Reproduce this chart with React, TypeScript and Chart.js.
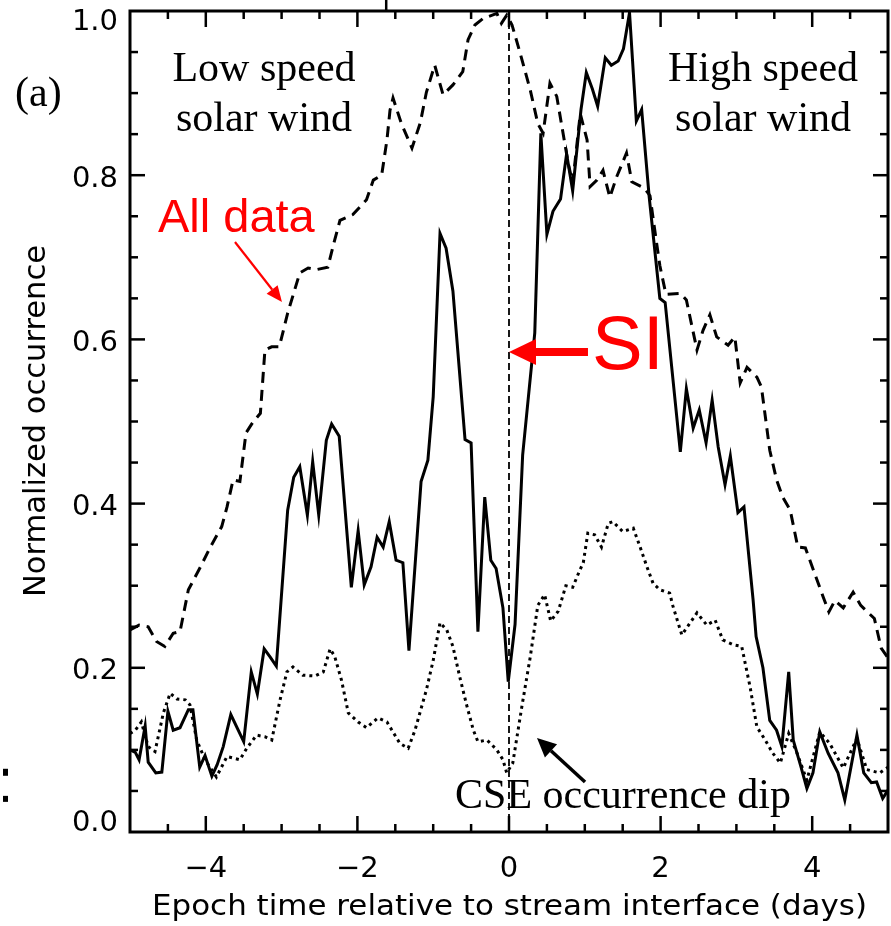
import React, { useEffect, useRef } from "react";
import { Chart, registerables } from "chart.js";

Chart.register(...registerables);

// Epoch time (days) and normalized occurrence for the three curves
const allDataTime = [
  -5.0, -4.88, -4.76, -4.65, -4.54, -4.43, -4.34, -4.23, -4.07, -3.94, -3.79, -3.72, -3.64, -3.55, -3.47, -3.38,
  -3.28, -3.22, -3.13, -3.03, -2.92, -2.76, -2.65, -2.54, -2.39, -2.3, -2.23, -2.06, -1.88, -1.79, -1.68, -1.61,
  -1.57, -1.53, -1.42, -1.28, -1.17, -1.09, -0.98, -0.87, -0.74, -0.61, -0.54, -0.45, -0.34, -0.16, -0.1, -0.03,
  0.04, 0.14, 0.28, 0.38, 0.45, 0.54, 0.63, 0.78, 0.84, 0.94, 1.03, 1.07, 1.16, 1.24, 1.33, 1.42, 1.55, 1.62,
  1.79, 1.86, 1.92, 1.99, 2.07, 2.26, 2.34, 2.48, 2.56, 2.65, 2.74, 2.89, 2.98, 3.05, 3.14, 3.27, 3.33, 3.44,
  3.53, 3.61, 3.71, 3.81, 3.91, 4.15, 4.22, 4.3, 4.41, 4.54, 4.64, 4.82, 4.91, 5.0,
];
const allDataValue = [
  0.246, 0.252, 0.25, 0.232, 0.226, 0.242, 0.244, 0.295, 0.323, 0.347, 0.372, 0.396, 0.429, 0.427, 0.486, 0.499,
  0.51, 0.587, 0.591, 0.591, 0.632, 0.681, 0.687, 0.685, 0.688, 0.721, 0.745, 0.752, 0.77, 0.794, 0.8, 0.843,
  0.879, 0.894, 0.863, 0.833, 0.864, 0.901, 0.934, 0.898, 0.91, 0.926, 0.965, 0.983, 0.991, 0.997, 0.985, 0.995,
  0.983, 0.951, 0.904, 0.863, 0.851, 0.912, 0.896, 0.815, 0.79, 0.875, 0.843, 0.786, 0.794, 0.806, 0.773, 0.798,
  0.827, 0.792, 0.784, 0.775, 0.735, 0.69, 0.655, 0.656, 0.648, 0.587, 0.611, 0.63, 0.603, 0.593, 0.603, 0.547,
  0.566, 0.554, 0.542, 0.465, 0.429, 0.408, 0.392, 0.347, 0.346, 0.285, 0.268, 0.282, 0.273, 0.292, 0.276, 0.26,
  0.224, 0.212,
];

const solidTime = [
  -5.0, -4.93, -4.88, -4.8, -4.76, -4.66, -4.58, -4.5, -4.43, -4.34, -4.23, -4.17, -4.08, -4.01, -3.92, -3.85,
  -3.77, -3.67, -3.5, -3.4, -3.32, -3.23, -3.15, -3.07, -2.92, -2.84, -2.76, -2.66, -2.59, -2.51, -2.41, -2.34,
  -2.24, -2.08, -1.99, -1.91, -1.82, -1.74, -1.66, -1.58, -1.49, -1.4, -1.32, -1.16, -1.07, -1.0, -0.91, -0.83,
  -0.74, -0.58, -0.5, -0.41, -0.32, -0.24, -0.17, -0.08, -0.01, 0.08, 0.18, 0.27, 0.34, 0.42, 0.5, 0.58, 0.68,
  0.76, 0.84, 0.95, 1.02, 1.1, 1.17, 1.27, 1.35, 1.44, 1.51, 1.59, 1.68, 1.75, 1.85, 1.99, 2.06, 2.26, 2.34,
  2.43, 2.51, 2.6, 2.68, 2.76, 2.85, 2.92, 3.02, 3.1, 3.22, 3.26, 3.35, 3.44, 3.53, 3.6, 3.69, 3.75, 3.85, 3.93,
  4.01, 4.1, 4.21, 4.34, 4.43, 4.59, 4.68, 4.78, 4.85, 4.93, 5.0,
];
const solidValue = [
  0.1, 0.097, 0.088, 0.129, 0.085, 0.072, 0.073, 0.147, 0.124, 0.127, 0.149, 0.149, 0.079, 0.093, 0.068, 0.082,
  0.104, 0.143, 0.11, 0.195, 0.168, 0.223, 0.213, 0.202, 0.392, 0.432, 0.445, 0.386, 0.451, 0.386, 0.477, 0.497,
  0.482, 0.298, 0.367, 0.301, 0.323, 0.359, 0.347, 0.378, 0.331, 0.328, 0.221, 0.427, 0.453, 0.53, 0.729, 0.711,
  0.659, 0.478, 0.474, 0.244, 0.408, 0.331, 0.321, 0.273, 0.183, 0.253, 0.459, 0.543, 0.608, 0.851, 0.728, 0.756,
  0.771, 0.826, 0.781, 0.88, 0.925, 0.905, 0.884, 0.943, 0.934, 0.939, 0.954, 0.998, 0.866, 0.88, 0.773, 0.65,
  0.645, 0.463, 0.54, 0.492, 0.514, 0.474, 0.526, 0.469, 0.423, 0.458, 0.389, 0.396, 0.283, 0.238, 0.2, 0.136,
  0.124, 0.104, 0.195, 0.112, 0.08, 0.053, 0.072, 0.122, 0.096, 0.072, 0.039, 0.118, 0.072, 0.06, 0.061, 0.041,
  0.051,
];

const dottedTime = [
  -5.0, -4.93, -4.85, -4.76, -4.67, -4.56, -4.47, -4.38, -4.27, -4.21, -4.12, -4.01, -3.86, -3.72, -3.55, -3.46,
  -3.33, -3.22, -3.13, -3.02, -2.93, -2.85, -2.72, -2.56, -2.45, -2.36, -2.3, -2.21, -2.12, -1.99, -1.88, -1.73,
  -1.61, -1.44, -1.33, -1.24, -1.09, -1.0, -0.91, -0.82, -0.74, -0.65, -0.56, -0.47, -0.41, -0.29, -0.16, -0.08,
  -0.03, 0.05, 0.17, 0.28, 0.38, 0.47, 0.55, 0.65, 0.75, 0.84, 0.93, 0.98, 1.04, 1.13, 1.22, 1.31, 1.37, 1.5,
  1.64, 1.73, 1.82, 1.9, 1.99, 2.12, 2.16, 2.28, 2.48, 2.61, 2.72, 2.82, 2.96, 3.07, 3.18, 3.27, 3.38, 3.48,
  3.58, 3.69, 3.8, 3.93, 4.1, 4.23, 4.41, 4.59, 4.72, 4.89, 5.0,
];
const dottedValue = [
  0.12, 0.124, 0.134, 0.104, 0.098, 0.145, 0.169, 0.162, 0.161, 0.155, 0.112, 0.088, 0.067, 0.092, 0.088, 0.102,
  0.118, 0.116, 0.112, 0.161, 0.195, 0.201, 0.191, 0.19, 0.195, 0.223, 0.214, 0.185, 0.145, 0.134, 0.127, 0.139,
  0.134, 0.108, 0.102, 0.124, 0.173, 0.209, 0.255, 0.246, 0.226, 0.189, 0.155, 0.124, 0.11, 0.112, 0.1, 0.088,
  0.072, 0.084, 0.153, 0.213, 0.276, 0.289, 0.257, 0.269, 0.3, 0.298, 0.318, 0.328, 0.364, 0.362, 0.347, 0.376,
  0.378, 0.366, 0.37, 0.347, 0.323, 0.303, 0.295, 0.291, 0.276, 0.24, 0.267, 0.252, 0.258, 0.234, 0.228, 0.226,
  0.177, 0.128, 0.112, 0.096, 0.084, 0.12, 0.096, 0.063, 0.122, 0.108, 0.078, 0.114, 0.076, 0.072, 0.079,
];

const xTickValues = [-4, -2, 0, 2, 4];
const yTickValues = [0, 0.2, 0.4, 0.6, 0.8, 1.0];

const xTitle = "Epoch time relative to stream interface (days)";
const yTitle = "Normalized occurrence";

const SERIF = '"Liberation Serif", "Times New Roman", serif';
const SANS = '"Liberation Sans", Arial, sans-serif';
const AXIS = '"DejaVu Sans", sans-serif';

// Annotation anchors, in data units (days, occurrence)
const labels = [
  { text: "(a)", x: -6.517, y: 0.884, align: "left", font: `42px ${SERIF}`, color: "#000" },
  { text: "Low speed", x: -3.232, y: 0.9147, align: "center", font: `42px ${SERIF}`, color: "#000" },
  { text: "solar wind", x: -3.232, y: 0.8538, align: "center", font: `42px ${SERIF}`, color: "#000" },
  { text: "High speed", x: 3.351, y: 0.9147, align: "center", font: `42px ${SERIF}`, color: "#000" },
  { text: "solar wind", x: 3.351, y: 0.8538, align: "center", font: `42px ${SERIF}`, color: "#000" },
  { text: "All data", x: -4.631, y: 0.7308, align: "left", font: `47px ${SANS}`, color: "#ff0000" },
  { text: "SI", x: 1.095, y: 0.5639, align: "left", font: `76px ${SANS}`, color: "#ff0000" },
  { text: "CSE occurrence dip", x: -0.712, y: 0.0292, align: "left", font: `42px ${SERIF}`, color: "#000" },
];

const arrows = [
  { from: [-3.615, 0.7186], to: [-2.995, 0.6455], width: 2.2, head: 16, half: 7, color: "#ff0000" },
  { from: [1.042, 0.5847], to: [0.0, 0.5847], width: 8, head: 27, half: 13, color: "#ff0000" },
  { from: [1.003, 0.0609], to: [0.369, 0.1145], width: 3.5, head: 19, half: 9, color: "#000" },
];

const pairs = (xs: number[], ys: number[]) => xs.map((x, i) => ({ x, y: ys[i] }));

const fmtX = (v: number) => (v < 0 ? "\u2212" + Math.abs(v) : String(v));

function drawArrow(ctx: CanvasRenderingContext2D, x1: number, y1: number, x2: number, y2: number,
  w: number, headLen: number, half: number, color: string) {
  const ang = Math.atan2(y2 - y1, x2 - x1);
  const bx = x2 - headLen * Math.cos(ang);
  const by = y2 - headLen * Math.sin(ang);
  ctx.strokeStyle = color;
  ctx.fillStyle = color;
  ctx.lineWidth = w;
  ctx.lineCap = "butt";
  ctx.beginPath();
  ctx.moveTo(x1, y1);
  ctx.lineTo(bx, by);
  ctx.stroke();
  ctx.beginPath();
  ctx.moveTo(x2, y2);
  ctx.lineTo(bx + half * Math.sin(ang), by - half * Math.cos(ang));
  ctx.lineTo(bx - half * Math.sin(ang), by + half * Math.cos(ang));
  ctx.closePath();
  ctx.fill();
}

function fitText(ctx: CanvasRenderingContext2D, text: string, cx: number, cy: number,
  font: string, width: number, vertical: boolean) {
  ctx.save();
  ctx.font = font;
  const w = ctx.measureText(text).width;
  ctx.translate(cx, cy);
  if (vertical) ctx.rotate(-Math.PI / 2);
  ctx.scale(width / w, 1);
  ctx.textAlign = "center";
  ctx.textBaseline = "alphabetic";
  ctx.fillStyle = "#000";
  ctx.fillText(text, 0, 0);
  ctx.restore();
}

// Frame with inward ticks on all four sides, the zero-epoch marker and the annotations
const framePlugin = {
  id: "idlFrame",
  beforeDraw(chart: any) {
    const ys = chart.scales.y;
    const items = ys.getLabelItems();
    items.forEach((it: any, i: number) => {
      if (it._shifted) return;
      const v = ys.ticks[i] ? ys.ticks[i].value : 0.5;
      const dy = v >= 1 ? 11 : v <= 0 ? -9 : 4;
      const t = it.options.translation;
      it.options.translation = [t[0], t[1] + dy];
      it._shifted = true;
    });
  },
  afterDraw(chart: any) {
    const { ctx, chartArea } = chart;
    const { left, right, top, bottom } = chartArea;
    const xs = chart.scales.x;
    const ys = chart.scales.y;
    ctx.save();

    // stream interface marker at epoch zero
    const x0 = xs.getPixelForValue(0);
    ctx.strokeStyle = "#000";
    ctx.lineWidth = 1.8;
    ctx.setLineDash([7, 4]);
    ctx.beginPath();
    ctx.moveTo(x0, top);
    ctx.lineTo(x0, bottom);
    ctx.stroke();
    ctx.setLineDash([]);

    // frame
    ctx.lineWidth = 3;
    ctx.strokeRect(left, top, right - left, bottom - top);

    const seg = (a: number, b: number, c: number, d: number) => {
      ctx.beginPath();
      ctx.moveTo(a, b);
      ctx.lineTo(c, d);
      ctx.stroke();
    };
    ctx.lineWidth = 2.5;
    for (let i = 1; i < 20; i++) {
      const v = -5 + i * 0.5;
      const px = xs.getPixelForValue(v);
      const len = xTickValues.includes(v) ? 16 : 8;
      seg(px, bottom, px, bottom - len);
      seg(px, top, px, top + len);
    }
    for (let i = 1; i < 20; i++) {
      const v = i * 0.05;
      const py = ys.getPixelForValue(v);
      const len = i % 4 === 0 ? 15 : 8;
      seg(left, py, left + len, py);
      seg(right, py, right - len, py);
    }
    // tick of the neighbouring panel poking above the frame
    seg(xs.getPixelForValue(-1.62), 0, xs.getPixelForValue(-1.62), top);

    // stray colon marks at the left margin
    ctx.fillStyle = "#000";
    ctx.fillRect(3, ys.getPixelForValue(0.077), 5, 7);
    ctx.fillRect(3, ys.getPixelForValue(0.044), 5, 6);

    // axis titles
    fitText(ctx, xTitle, (left + right) / 2 + 0.5, 915, `29px ${AXIS}`, 715, false);
    fitText(ctx, yTitle, 45, 421, `31px ${AXIS}`, 352, true);

    // text annotations
    labels.forEach((l) => {
      ctx.font = l.font;
      ctx.fillStyle = l.color;
      ctx.textAlign = l.align as CanvasTextAlign;
      ctx.textBaseline = "alphabetic";
      ctx.fillText(l.text, xs.getPixelForValue(l.x), ys.getPixelForValue(l.y));
    });

    arrows.forEach((a) => {
      drawArrow(ctx,
        xs.getPixelForValue(a.from[0]), ys.getPixelForValue(a.from[1]),
        xs.getPixelForValue(a.to[0]), ys.getPixelForValue(a.to[1]),
        a.width, a.head, a.half, a.color);
    });

    ctx.restore();
  },
};

export default function App() {
  const canvasRef = useRef<HTMLCanvasElement | null>(null);

  useEffect(() => {
    document.body.style.margin = "0";
    const canvas = canvasRef.current;
    if (!canvas) return;

    const chart = new Chart(canvas, {
      type: "line",
      data: {
        datasets: [
          {
            label: "All data",
            data: pairs(allDataTime, allDataValue),
            borderColor: "#000",
            borderWidth: 3,
            borderDash: [11, 7],
            pointRadius: 0,
            tension: 0,
            fill: false,
          },
          {
            label: "CSE (solid)",
            data: pairs(solidTime, solidValue),
            borderColor: "#000",
            borderWidth: 3,
            pointRadius: 0,
            tension: 0,
            fill: false,
          },
          {
            label: "CSE (dotted)",
            data: pairs(dottedTime, dottedValue),
            borderColor: "#000",
            borderWidth: 3,
            borderDash: [3, 4],
            pointRadius: 0,
            tension: 0,
            fill: false,
          },
        ],
      },
      options: {
        animation: false,
        responsive: false,
        maintainAspectRatio: false,
        devicePixelRatio: 1,
        layout: { padding: { top: 11, right: 3, left: 0, bottom: 0 } },
        plugins: { legend: { display: false }, tooltip: { enabled: false }, title: { display: false } },
        scales: {
          x: {
            type: "linear",
            min: -5,
            max: 5,
            afterFit: (s: any) => {
              s.height = 94;
              s.paddingLeft = 0;
              s.paddingRight = 0;
            },
            afterBuildTicks: (s: any) => { s.ticks = xTickValues.map((v) => ({ value: v })); },
            grid: { display: false, drawTicks: false },
            border: { display: false },
            ticks: {
              color: "#000",
              font: { family: "DejaVu Sans", size: 29 },
              padding: 20,
              maxRotation: 0,
              autoSkip: false,
              callback: (v: any) => fmtX(Number(v)),
            },
          },
          y: {
            type: "linear",
            min: 0,
            max: 1,
            afterFit: (s: any) => {
              s.width = 130;
              s.paddingTop = 0;
              s.paddingBottom = 0;
            },
            afterBuildTicks: (s: any) => { s.ticks = yTickValues.map((v) => ({ value: v })); },
            grid: { display: false, drawTicks: false },
            border: { display: false },
            ticks: {
              color: "#000",
              font: { family: "DejaVu Sans", size: 29 },
              padding: 12,
              autoSkip: false,
              callback: (v: any) => Number(v).toFixed(1),
            },
          },
        },
      },
      plugins: [framePlugin],
    } as any);

    return () => chart.destroy();
  }, []);

  return (
    <canvas
      ref={canvasRef}
      width={891}
      height={926}
      style={{ display: "block", width: 891, height: 926 }}
    />
  );
}
